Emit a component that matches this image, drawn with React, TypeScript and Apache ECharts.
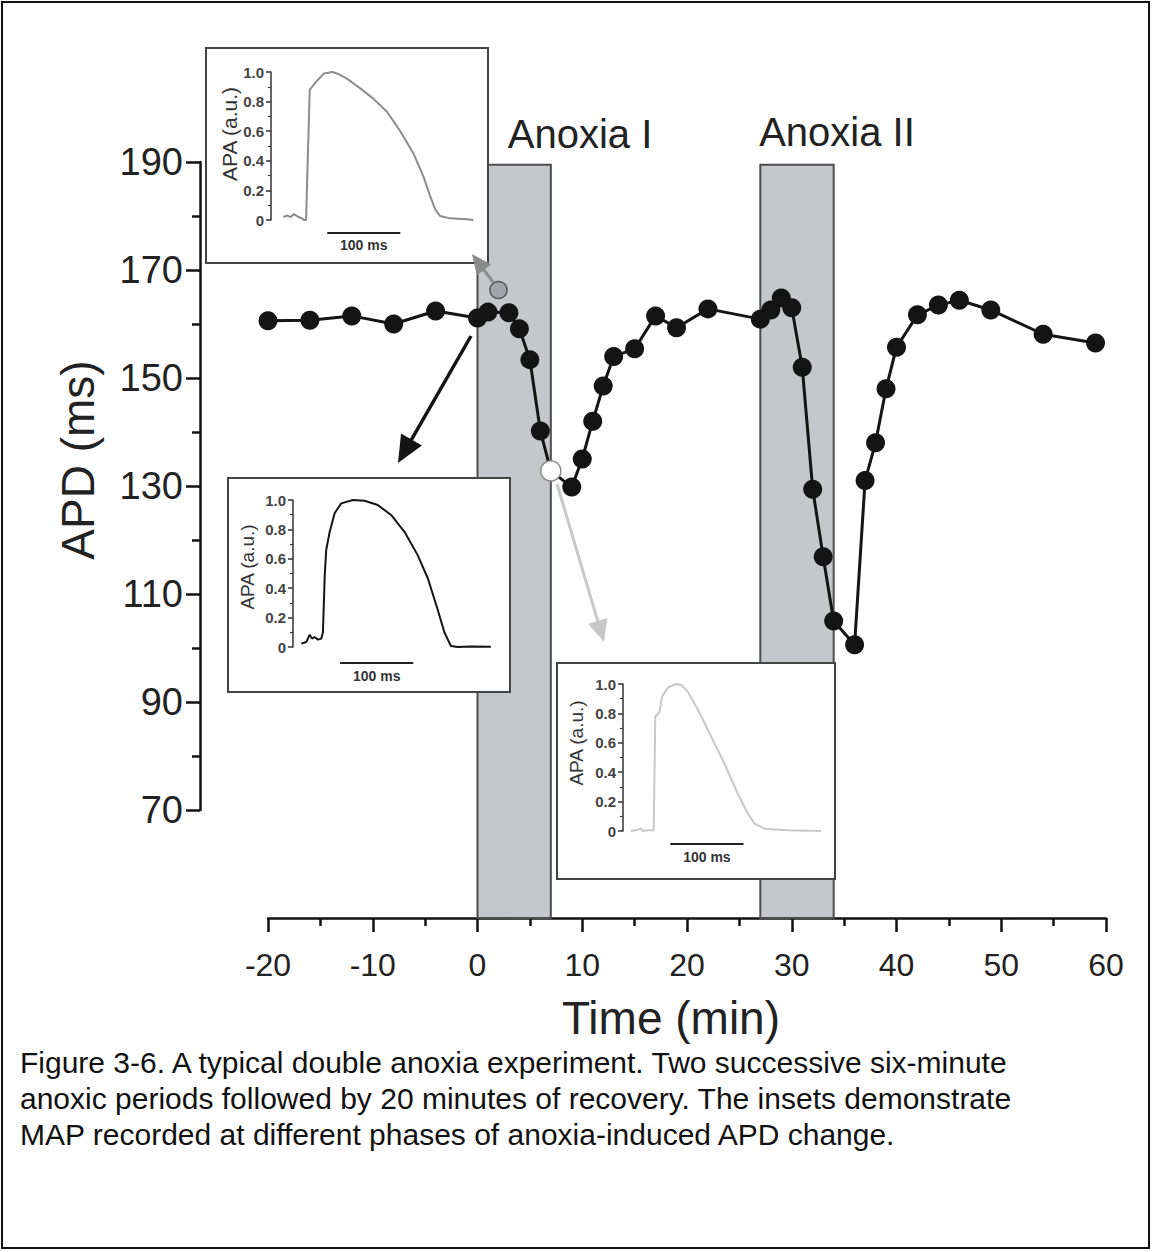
import React, { useEffect, useRef } from "react";
import * as echarts from "echarts";

// ---------------- data ----------------
const timeMin = [-20, -16, -12, -8, -4, 0, 1, 3, 4, 5, 6, 7, 9, 10, 11, 12, 13, 15, 17, 19, 22, 27, 28, 29, 30, 31, 32, 33, 34, 36, 37, 38, 39, 40, 42, 44, 46, 49, 54, 59];
const apdMs = [160.6, 160.7, 161.5, 160, 162.4, 161.1, 162.2, 162.1, 159.1, 153.4, 140.2, 132.8, 129.8, 135, 142, 148.5, 154, 155.4, 161.5, 159.3, 162.8, 160.9, 162.6, 164.8, 163, 152, 129.4, 116.9, 105, 100.6, 131, 138, 148, 155.7, 161.7, 163.5, 164.4, 162.6, 158.1, 156.5];

const grayPointTime = [2];
const grayPointApd = [166.3];
const whitePointTime = [7];
const whitePointApd = [132.8];

const anoxiaStart = [0, 27];
const anoxiaEnd = [7, 34];
const anoxiaTop = 189.5;
const anoxiaLabels = ["Anoxia I", "Anoxia II"];

const xAxisMin = -20;
const xAxisMax = 60;
const xAxisStep = 10;
const yAxisMin = 70;
const yAxisMax = 190;
const yAxisStep = 20;
const yDataMin = 50;

// inset traces (ms, normalised amplitude)
const trace1Ms = [0, 5.5, 10, 14.5, 21, 26, 28, 31, 36, 44, 55.5, 67, 73.6, 87, 105, 123, 142, 160, 178, 192, 201, 208, 214.5, 228, 251, 260];
const trace1Apa = [0.02, 0.03, 0.02, 0.04, 0.02, 0.01, 0, 0, 0.88, 0.93, 0.99, 1.0, 0.99, 0.955, 0.89, 0.82, 0.73, 0.6, 0.45, 0.29, 0.16, 0.07, 0.027, 0.011, 0.005, 0];

const trace2Ms = [0, 6.8, 11.4, 14.5, 18, 22.7, 27.3, 29.5, 32, 34, 38.6, 45.5, 54.5, 70.5, 86.4, 104.5, 122.7, 141, 159, 173, 186, 195.5, 204.5, 213.6, 232, 259];
const trace2Apa = [0.023, 0.034, 0.084, 0.057, 0.068, 0.05, 0.057, 0.1, 0.489, 0.66, 0.78, 0.91, 0.977, 1.0, 0.995, 0.966, 0.898, 0.784, 0.625, 0.466, 0.26, 0.1, 0.007, 0, 0.003, 0.002];

const trace3Ms = [0, 7.7, 13.6, 16.8, 23.6, 28, 31.4, 33.6, 39.5, 42.7, 51, 62, 69, 78, 92, 110, 128, 146, 160, 169, 182.7, 214.5, 260];
const trace3Apa = [0, 0.005, 0.016, 0, 0.005, 0.005, 0.005, 0.777, 0.81, 0.914, 0.977, 1.0, 0.993, 0.948, 0.823, 0.64, 0.459, 0.255, 0.118, 0.05, 0.016, 0.005, 0];

const insetYMin = 0;
const insetYMax = 1;
const insetYStep = 0.2;
const scaleBarMs = 100;
const scaleBarLabel = "100 ms";
const insetYName = "APA (a.u.)";

const xName = "Time (min)";
const yName = "APD (ms)";
const captionLines = [
  "Figure 3-6. A typical double anoxia experiment. Two successive six-minute",
  "anoxic periods followed by 20 minutes of recovery. The insets demonstrate",
  "MAP recorded at different phases of anoxia-induced APD change.",
];

// ---------------- layout ----------------
const FONT = "'Liberation Sans', Arial, Helvetica, sans-serif";
const DOT = 19;

const insets = [
  {
    ms: trace1Ms, apa: trace1Apa, color: "#8c8c8c",
    box: { x: 206, y: 48, w: 282, h: 215 },
    grid: { left: 271, top: 72, width: 206, height: 148 },
    xMin: -17, xMax: 265, barStart: 60, barY: 233, textY: 245,
    nameX: 229, nameY: 134, nameSize: 21,
  },
  {
    ms: trace2Ms, apa: trace2Apa, color: "#141414",
    box: { x: 228, y: 478, w: 282, h: 214 },
    grid: { left: 293, top: 500, width: 200, height: 147 },
    xMin: -11.4, xMax: 262, barStart: 53, barY: 663, textY: 676,
    nameX: 247, nameY: 567, nameSize: 19,
  },
  {
    ms: trace3Ms, apa: trace3Apa, color: "#c8c8c8",
    box: { x: 557, y: 663, w: 278, h: 216 },
    grid: { left: 623, top: 684, width: 204, height: 147 },
    xMin: -10.5, xMax: 268, barStart: 54, barY: 844, textY: 857,
    nameX: 576, nameY: 743, nameSize: 19,
  },
];

function arrow(x1: number, y1: number, x2: number, y2: number, color: string, lw: number, L: number, W: number) {
  const dx = x2 - x1, dy = y2 - y1;
  const len = Math.hypot(dx, dy);
  const ux = dx / len, uy = dy / len;
  const bx = x2 - ux * L, by = y2 - uy * L;
  const nx = -uy, ny = ux;
  return [
    { type: "line", z: 30, shape: { x1, y1, x2: bx + ux * 2, y2: by + uy * 2 }, style: { stroke: color, lineWidth: lw } },
    {
      type: "polygon", z: 30,
      shape: { points: [[x2, y2], [bx + nx * W, by + ny * W], [bx - nx * W, by - ny * W]] },
      style: { fill: color },
    },
  ];
}

export default function App() {
  const ref = useRef<HTMLDivElement>(null);

  useEffect(() => {
    if (!ref.current) return;
    const chart = echarts.init(ref.current, undefined, { renderer: "svg" });

    const mainGrid = { left: 268, top: 162, width: 838, height: 756 };

    const grids: any[] = [
      mainGrid,
      { left: 200, top: 162, width: 10, height: 648 },
      ...insets.map((s) => s.grid),
    ];

    const xAxes: any[] = [
      {
        gridIndex: 0, type: "value", min: xAxisMin, max: xAxisMax, interval: xAxisStep,
        axisLine: { onZero: false, lineStyle: { color: "#111", width: 2.5 } },
        axisTick: { show: true, length: 14, lineStyle: { color: "#111", width: 2.5 } },
        minorTick: { show: true, splitNumber: 2, length: 8, lineStyle: { color: "#111", width: 2.5 } },
        splitLine: { show: false },
        axisLabel: { fontSize: 32, color: "#222", margin: 31, fontFamily: FONT },
      },
      { gridIndex: 1, type: "value", show: false, min: 0, max: 1 },
      ...insets.map((s, i) => ({ gridIndex: i + 2, type: "value", show: false, min: s.xMin, max: s.xMax })),
    ];

    const yAxes: any[] = [
      { gridIndex: 0, type: "value", show: false, min: yDataMin, max: yAxisMax },
      {
        gridIndex: 1, type: "value", min: yAxisMin, max: yAxisMax, interval: yAxisStep,
        axisLine: { show: true, onZero: false, lineStyle: { color: "#111", width: 2.5 } },
        axisTick: { show: true, length: 14, lineStyle: { color: "#111", width: 2.5 } },
        minorTick: { show: true, splitNumber: 2, length: 8, lineStyle: { color: "#111", width: 2.5 } },
        splitLine: { show: false },
        axisLabel: { fontSize: 38, color: "#222", margin: 17, fontFamily: FONT },
      },
      ...insets.map((s, i) => ({
        gridIndex: i + 2, type: "value", min: insetYMin, max: insetYMax, interval: insetYStep, z: 10,
        axisLine: { show: true, onZero: false, lineStyle: { color: "#333", width: 1.5 } },
        axisTick: { show: true, length: 5, lineStyle: { color: "#333", width: 1.5 } },
        minorTick: { show: true, splitNumber: 2, length: 3, lineStyle: { color: "#333", width: 1.2 } },
        splitLine: { show: false },
        axisLabel: {
          fontSize: 15, fontWeight: "bold", color: "#444", margin: 7, fontFamily: FONT,
          formatter: (v: number) => (v === 0 ? "0" : v.toFixed(1)),
        },
      })),
    ];

    const mainData = timeMin.map((t, i) => [t, apdMs[i]]);

    const series: any[] = [
      {
        type: "line", xAxisIndex: 0, yAxisIndex: 0, data: [], z: 1, silent: true,
        markArea: {
          silent: true,
          itemStyle: { color: "#c6c7ca", borderColor: "#4d4d4d", borderWidth: 2 },
          data: anoxiaStart.map((a, i) => [
            { xAxis: a, yAxis: yDataMin },
            { xAxis: anoxiaEnd[i], yAxis: anoxiaTop },
          ]),
        },
      },
      {
        type: "line", xAxisIndex: 0, yAxisIndex: 0, z: 3,
        data: mainData,
        symbol: "circle", symbolSize: DOT, showSymbol: true,
        itemStyle: { color: "#141414", opacity: 1 },
        lineStyle: { color: "#141414", width: 3 },
      },
      {
        type: "scatter", xAxisIndex: 0, yAxisIndex: 0, z: 5,
        data: grayPointTime.map((t, i) => [t, grayPointApd[i]]),
        symbolSize: 17,
        itemStyle: { color: "#a3a3aa", borderColor: "#555", borderWidth: 1.5, opacity: 1 },
      },
      {
        type: "scatter", xAxisIndex: 0, yAxisIndex: 0, z: 5,
        data: whitePointTime.map((t, i) => [t, whitePointApd[i]]),
        symbolSize: DOT + 1,
        itemStyle: { color: "#ffffff", borderColor: "#8a8a8a", borderWidth: 1.5, opacity: 1 },
      },
      ...insets.map((s, i) => ({
        type: "line", xAxisIndex: i + 2, yAxisIndex: i + 2, z: 10,
        data: s.ms.map((m, j) => [m, s.apa[j]]),
        showSymbol: false, symbol: "none",
        lineStyle: { color: s.color, width: 2 },
      })),
    ];

    const graphic: any[] = [
      { type: "rect", z: 0, shape: { x: 2, y: 2, width: 1147, height: 1246 }, style: { fill: "none", stroke: "#111", lineWidth: 2 } },
    ];

    insets.forEach((s) => {
      const pxPerMs = s.grid.width / (s.xMax - s.xMin);
      const bx1 = s.grid.left + (s.barStart - s.xMin) * pxPerMs;
      const bx2 = bx1 + scaleBarMs * pxPerMs;
      graphic.push(
        { type: "rect", z: 6, shape: { x: s.box.x, y: s.box.y, width: s.box.w, height: s.box.h }, style: { fill: "#fff", stroke: "#444", lineWidth: 2 } },
        { type: "line", z: 12, shape: { x1: bx1, y1: s.barY, x2: bx2, y2: s.barY }, style: { stroke: "#222", lineWidth: 2 } },
        { type: "text", z: 12, x: (bx1 + bx2) / 2, y: s.textY, style: { text: scaleBarLabel, fontSize: 14, fontWeight: "bold", fontFamily: FONT, fill: "#333", align: "center", verticalAlign: "middle" } },
        { type: "text", z: 12, x: s.nameX, y: s.nameY, rotation: Math.PI / 2, style: { text: insetYName, fontSize: s.nameSize, fontFamily: FONT, fill: "#333", align: "center", verticalAlign: "middle" } },
      );
    });

    const anoxiaTextPos = [[580, 134], [837, 132]];
    anoxiaLabels.forEach((lab, i) => {
      graphic.push({ type: "text", z: 12, x: anoxiaTextPos[i][0], y: anoxiaTextPos[i][1], style: { text: lab, fontSize: 40, fontFamily: FONT, fill: "#222", align: "center", verticalAlign: "middle" } });
    });

    graphic.push(
      { type: "text", z: 12, x: 78, y: 460, rotation: Math.PI / 2, style: { text: yName, fontSize: 46, fontFamily: FONT, fill: "#222", align: "center", verticalAlign: "middle" } },
      { type: "text", z: 12, x: 671, y: 1018, style: { text: xName, fontSize: 46, fontFamily: FONT, fill: "#222", align: "center", verticalAlign: "middle" } },
    );

    captionLines.forEach((line, i) => {
      graphic.push({ type: "text", z: 12, x: 20, y: 1062 + i * 36, style: { text: line, fontSize: 30, fontFamily: FONT, fill: "#111", align: "left", verticalAlign: "middle" } });
    });

    graphic.push(
      ...arrow(471, 336, 398, 463, "#141414", 3.5, 27, 12),
      ...arrow(493, 282, 472, 254, "#8c8c8c", 3, 20, 9),
      ...arrow(557, 484, 604, 642, "#c8c8c8", 3, 22, 10),
    );

    chart.setOption({
      animation: false,
      backgroundColor: "#ffffff",
      textStyle: { fontFamily: FONT },
      grid: grids,
      xAxis: xAxes,
      yAxis: yAxes,
      series,
      graphic: { elements: graphic },
    });

    return () => chart.dispose();
  }, []);

  return (
    <div
      ref={ref}
      style={{ position: "absolute", left: 0, top: 0, width: 1152, height: 1252, background: "#fff" }}
    />
  );
}
